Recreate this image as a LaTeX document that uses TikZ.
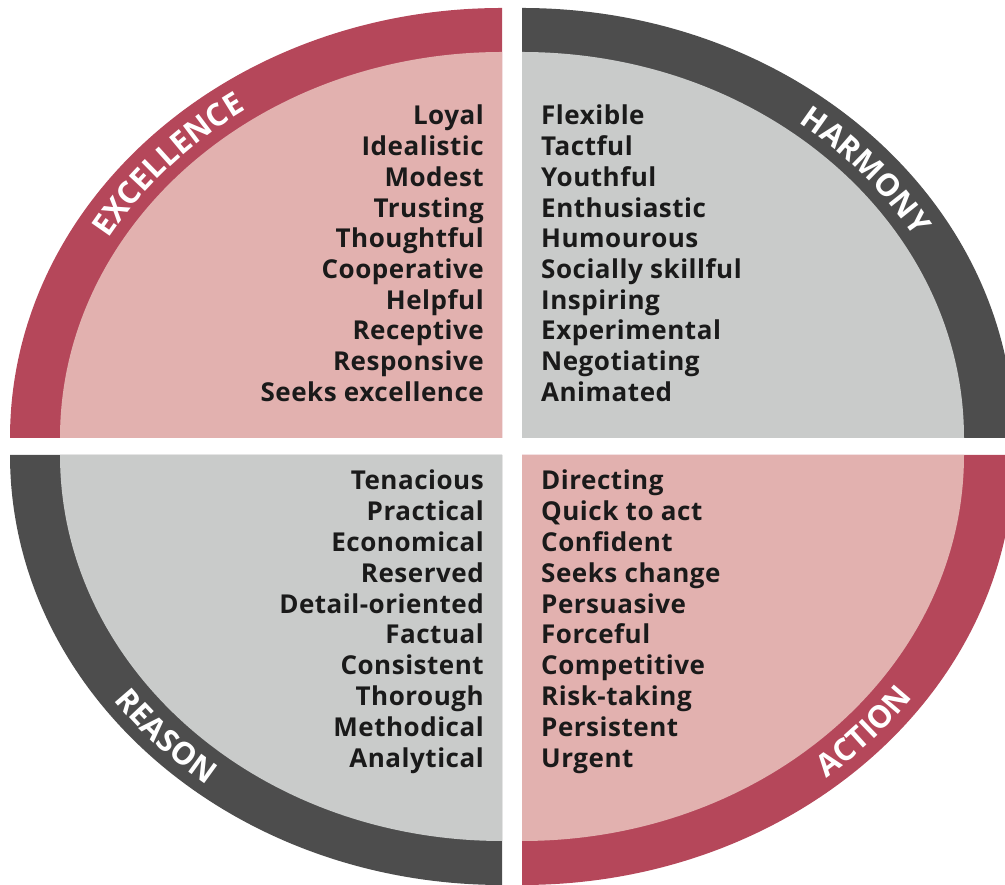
\documentclass[tikz,border=0pt]{standalone}
\usepackage{fontspec}
\setmainfont{Open Sans}
\usetikzlibrary{decorations.text}
\definecolor{ringred}{HTML}{B5475A}
\definecolor{fillpink}{HTML}{E2B1AF}
\definecolor{ringgrey}{HTML}{4D4D4D}
\definecolor{fillgrey}{HTML}{C9CBCA}
\definecolor{txt}{HTML}{1A1A1A}
\newcommand{\lblfont}{\fontsize{31}{31}\selectfont\bfseries}
\newcommand{\wordfont}{\fontsize{26}{26}\selectfont\bfseries\addfontfeature{LetterSpace=2}}
\begin{document}
\begin{tikzpicture}[x=1pt,y=1pt,
  word/.style={font=\wordfont, text=txt, inner sep=0pt},
  lefttxt/.style={word, anchor=base east},
  righttxt/.style={word, anchor=base west},
  arclabel/.style={decorate, decoration={text along path, text={|\lblfont|#1}, text align=center, text color=white}}]
\useasboundingbox (0,0) rectangle (1005,885);
\begin{scope}
\clip (0,0) rectangle (1005,885);
% top-left
\fill[ringred] (502,447) -- (10,447) arc[start angle=180, end angle=90, x radius=492, y radius=430] -- cycle;
\fill[fillpink] (502,447) -- (60,447) arc[start angle=180, end angle=90, x radius=442, y radius=386] -- cycle;
% top-right
\fill[ringgrey] (522,447) -- (522,877) arc[start angle=90, end angle=0, x radius=492, y radius=430] -- cycle;
\fill[fillgrey] (522,447) -- (522,833) arc[start angle=90, end angle=0, x radius=442, y radius=386] -- cycle;
% bottom-left
\fill[ringgrey] (502,430) -- (10,430) arc[start angle=180, end angle=270, x radius=492, y radius=430] -- cycle;
\fill[fillgrey] (502,430) -- (60,430) arc[start angle=180, end angle=270, x radius=442, y radius=386] -- cycle;
% bottom-right
\fill[ringred] (522,430) -- (522,0) arc[start angle=270, end angle=360, x radius=492, y radius=430] -- cycle;
\fill[fillpink] (522,430) -- (522,44) arc[start angle=270, end angle=360, x radius=442, y radius=386] -- cycle;
\end{scope}
% ring labels
\path[arclabel=EXCELLENCE] ({502+455*cos(178.5)}, {447+397*sin(178.5)}) arc[start angle=178.5, end angle=98.5, x radius=455, y radius=397];
\path[arclabel=HARMONY] ({522+455*cos(80)}, {447+397*sin(80)}) arc[start angle=80, end angle=0, x radius=455, y radius=397];
\path[arclabel=REASON] ({502+479*cos(193)}, {430+419*sin(193)}) arc[start angle=193, end angle=253, x radius=479, y radius=419];
\path[arclabel=ACTION] ({522+479*cos(288)}, {430+419*sin(288)}) arc[start angle=288, end angle=348, x radius=479, y radius=419];
% word lists
\foreach \w [count=\i from 0] in {Loyal, Idealistic, Modest, Trusting, Thoughtful, Cooperative, Helpful, Receptive, Responsive, Seeks excellence}
  \node[lefttxt] (tl\i) at (484, {760-30.7*\i}) {\w};
\foreach \w [count=\i from 0] in {Flexible, Tactful, Youthful, Enthusiastic, Humourous, Socially skillful, Inspiring, Experimental, Negotiating, Animated}
  \node[righttxt] (tr\i) at (541, {760-30.7*\i}) {\w};
\foreach \w [count=\i from 0] in {Tenacious, Practical, Economical, Reserved, Detail-oriented, Factual, Consistent, Thorough, Methodical, Analytical}
  \node[lefttxt] (bl\i) at (484, {395-30.8*\i}) {\w};
\foreach \w [count=\i from 0] in {Directing, Quick to act, Confident, Seeks change, Persuasive, Forceful, Competitive, Risk-taking, Persistent, Urgent}
  \node[righttxt] (br\i) at (541, {395-30.8*\i}) {\w};
\end{tikzpicture}
\end{document}
